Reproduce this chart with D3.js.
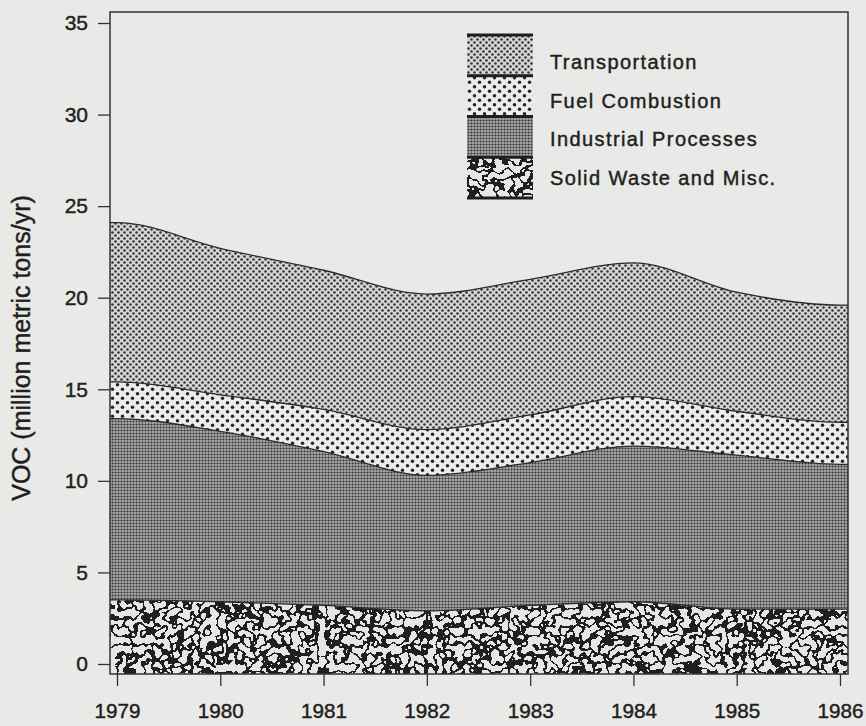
<!DOCTYPE html>
<html>
<head>
<meta charset="utf-8">
<script src="https://cdn.jsdelivr.net/npm/d3@7"></script>
<style>
  html, body { margin: 0; padding: 0; background: #e9eae7; }
  svg { display: block; font-family: "Liberation Sans", Arial, sans-serif; }
  .ink { fill: #1f1f1f; stroke: #1f1f1f; stroke-width: 0.45px; }
</style>
</head>
<body>
<div id="chart"></div>
<script>
(() => {
  const width = 866, height = 726;

  // VOC emissions, million metric tons/yr
  const years = [1979, 1980, 1981, 1982, 1983, 1984, 1985, 1986];
  const solidWaste = [3.5, 3.4, 3.2, 2.9, 3.2, 3.4, 3.0, 3.0];
  const industrial = [9.9, 9.3, 8.4, 7.4, 7.8, 8.5, 8.4, 7.9];
  const fuelCombustion = [2.0, 2.0, 2.3, 2.5, 2.6, 2.7, 2.4, 2.3];
  const transportation = [8.7, 8.0, 7.6, 7.4, 7.4, 7.3, 6.5, 6.4];

  const seriesKeys = ["solid", "industrial", "fuel", "transport"];
  const seriesLabels = ["Solid Waste and Misc.", "Industrial Processes", "Fuel Combustion", "Transportation"];
  const yTicks = [0, 5, 10, 15, 20, 25, 30, 35];
  const yTitle = "VOC (million metric tons/yr)";

  const rows = years.map((yr, i) => ({
    year: yr,
    solid: solidWaste[i],
    industrial: industrial[i],
    fuel: fuelCombustion[i],
    transport: transportation[i]
  }));

  // plot frame
  const frame = { left: 110, right: 848, top: 12, bottom: 674 };

  const x = d3.scaleLinear().domain([1979, 1986]).range([117, 840]);
  const y = d3.scaleLinear().domain([0, 35]).range([664, 23]);

  const svg = d3.select("#chart").append("svg")
    .attr("width", width)
    .attr("height", height);

  const defs = svg.append("defs");

  // dotted screen patterns
  function dotPattern(id, w, h, bg, dots, r, color) {
    const p = defs.append("pattern")
      .attr("id", id)
      .attr("patternUnits", "userSpaceOnUse")
      .attr("width", w)
      .attr("height", h);
    p.append("rect").attr("width", w).attr("height", h).attr("fill", bg);
    dots.forEach(([cx, cy]) => {
      p.append("circle").attr("cx", cx).attr("cy", cy).attr("r", r).attr("fill", color);
    });
  }
  dotPattern("pat-transport", 6, 6, "#d6d7d5", [[1.5, 1.5], [4.5, 4.5]], 1.3, "#333");
  dotPattern("pat-fuel", 10, 9, "#ecedeb", [[2.5, 2.25], [7.5, 6.75]], 1.75, "#262626");
  dotPattern("pat-industrial", 3, 3, "#a9a9a7", [[1.5, 1.5]], 1.05, "#333");

  // squiggly "solid waste" texture from thresholded noise
  const filt = defs.append("filter")
    .attr("id", "squiggle")
    .attr("filterUnits", "userSpaceOnUse")
    .attr("x", 0).attr("y", 0)
    .attr("width", width).attr("height", height)
    .attr("color-interpolation-filters", "sRGB");
  filt.append("feTurbulence")
    .attr("type", "fractalNoise")
    .attr("baseFrequency", 0.11)
    .attr("numOctaves", 2)
    .attr("seed", 11)
    .attr("result", "noise");
  filt.append("feColorMatrix")
    .attr("in", "noise")
    .attr("type", "matrix")
    .attr("values", "0 0 0 0 0.12  0 0 0 0 0.12  0 0 0 0 0.13  1 0 0 0 0")
    .attr("result", "mask");
  filt.append("feComponentTransfer")
    .attr("in", "mask")
    .append("feFuncA")
    .attr("type", "discrete")
    .attr("tableValues", "0 0 0 0 0 0 0 0 1 1 1 0 0 0 0 0 0 0 0 0");

  const sw = defs.append("pattern")
    .attr("id", "pat-solid")
    .attr("patternUnits", "userSpaceOnUse")
    .attr("width", width)
    .attr("height", height);
  sw.append("rect").attr("width", width).attr("height", height).attr("fill", "#e6e7e4");
  sw.append("rect").attr("width", width).attr("height", height).attr("fill", "#000")
    .attr("filter", "url(#squiggle)");

  const fills = {
    solid: "url(#pat-solid)",
    industrial: "url(#pat-industrial)",
    fuel: "url(#pat-fuel)",
    transport: "url(#pat-transport)"
  };

  defs.append("clipPath").attr("id", "plot-clip")
    .append("rect")
    .attr("x", frame.left).attr("y", frame.top)
    .attr("width", frame.right - frame.left)
    .attr("height", frame.bottom - frame.top);

  // stacked areas
  const stacked = d3.stack().keys(seriesKeys)(rows);

  const area = d3.area()
    .curve(d3.curveMonotoneX)
    .x(d => d.px)
    .y0(d => d.y0 === 0 ? frame.bottom : y(d.y0))
    .y1(d => y(d.y1));

  const topLine = d3.line()
    .curve(d3.curveMonotoneX)
    .x(d => d.px)
    .y(d => y(d.y1));

  // extend each layer flat to the frame edges
  function layerPoints(s) {
    const pts = s.map(d => ({ px: x(d.data.year), y0: d[0], y1: d[1] }));
    const first = pts[0], last = pts[pts.length - 1];
    return [{ px: frame.left, y0: first.y0, y1: first.y1 }, ...pts,
            { px: frame.right, y0: last.y0, y1: last.y1 }];
  }

  const plot = svg.append("g").attr("clip-path", "url(#plot-clip)");

  stacked.forEach(s => {
    plot.append("path")
      .attr("d", area(layerPoints(s)))
      .attr("fill", fills[s.key]);
  });
  stacked.forEach(s => {
    plot.append("path")
      .attr("d", topLine(layerPoints(s)))
      .attr("fill", "none")
      .attr("stroke", "#2a2a2a")
      .attr("stroke-width", 1.3);
  });

  // frame
  svg.append("rect")
    .attr("x", frame.left).attr("y", frame.top)
    .attr("width", frame.right - frame.left)
    .attr("height", frame.bottom - frame.top)
    .attr("fill", "none")
    .attr("stroke", "#333")
    .attr("stroke-width", 1.5);

  // axes
  const yAxis = svg.append("g")
    .attr("transform", `translate(${frame.left},0)`)
    .call(d3.axisLeft(y).tickValues(yTicks).tickSize(12).tickPadding(10).tickSizeOuter(0));

  const xAxis = svg.append("g")
    .attr("transform", `translate(0,${frame.bottom})`)
    .call(d3.axisBottom(x).tickValues(years).tickFormat(d3.format("d"))
      .tickSize(12).tickPadding(17).tickSizeOuter(0));

  [yAxis, xAxis].forEach(g => {
    g.select(".domain").remove();
    g.selectAll(".tick line").attr("stroke", "#333").attr("stroke-width", 1.3);
    g.selectAll(".tick text")
      .attr("class", "ink")
      .attr("fill", null)
      .style("font-size", "21px")
      .style("font-family", "'Liberation Sans', Arial, sans-serif");
  });
  xAxis.selectAll(".tick text")
    .attr("textLength", 46)
    .attr("lengthAdjust", "spacingAndGlyphs");

  // y title
  svg.append("text")
    .attr("class", "ink")
    .attr("transform", "translate(30,348) rotate(-90)")
    .attr("text-anchor", "middle")
    .style("font-size", "25px")
    .text(yTitle);

  // legend (top entry first)
  const legend = svg.append("g").attr("transform", "translate(467,35)");
  const boxW = 66, boxH = 40.75;
  const legendKeys = seriesKeys.slice().reverse();
  const legendLabels = seriesLabels.slice().reverse();

  legendKeys.forEach((k, i) => {
    legend.append("rect")
      .attr("x", 0).attr("y", i * boxH)
      .attr("width", boxW).attr("height", boxH)
      .attr("fill", fills[k]);
    legend.append("text")
      .attr("class", "ink")
      .attr("x", 83)
      .attr("y", 34 + i * 38.7)
      .style("font-size", "20px")
      .style("letter-spacing", "1.4px")
      .text(legendLabels[i]);
  });
  d3.range(legendKeys.length + 1).forEach(i => {
    legend.append("line")
      .attr("x1", 0).attr("x2", boxW)
      .attr("y1", i * boxH).attr("y2", i * boxH)
      .attr("stroke", "#1e1e1e")
      .attr("stroke-width", 3);
  });
})();
</script>
</body>
</html>
